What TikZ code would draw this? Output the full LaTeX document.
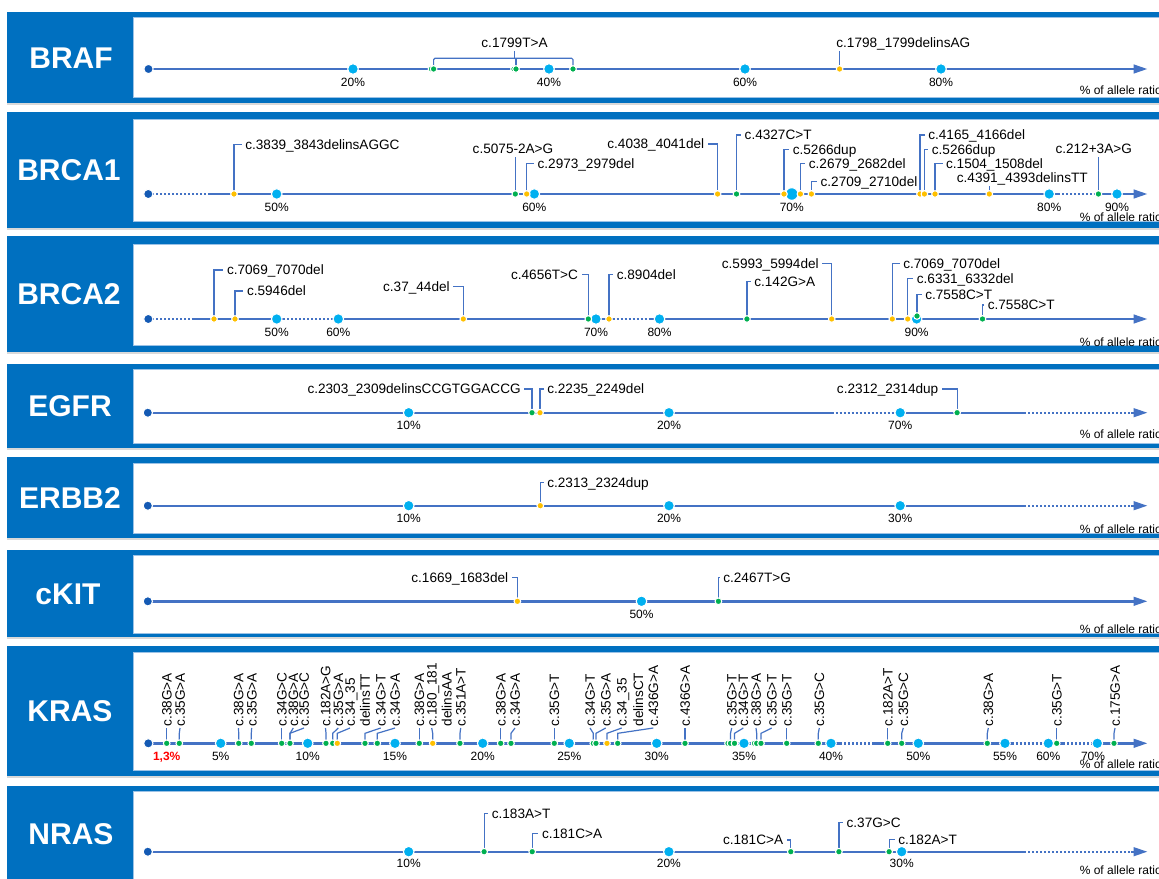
\documentclass[tikz,border=0pt]{standalone}
\usepackage{fontspec}
\setmainfont{Liberation Sans}
\usetikzlibrary{arrows.meta}
\definecolor{pblue}{RGB}{0,112,192}
\definecolor{lblue}{RGB}{155,194,230}
\definecolor{ablue}{RGB}{68,114,196}
\definecolor{sblue}{RGB}{20,90,180}
\definecolor{cyanc}{RGB}{0,176,240}
\definecolor{gdotc}{RGB}{0,176,80}
\definecolor{odotc}{RGB}{255,192,0}
\definecolor{redc}{RGB}{255,0,0}
\pgfdeclarelayer{bg}\pgfdeclarelayer{mid}\pgfsetlayers{bg,mid,main}
\tikzset{
 panelfill/.style={fill=pblue},
 innerfill/.style={fill=white,draw=lblue,line width=0.5pt},
 shadowfill/.style={fill=black!15},
 axisline/.style={draw=ablue,line width=1.8pt},
 dotline/.style={draw=ablue,line width=1.8pt,dash pattern=on 1.5pt off 1.5pt},
 arrowline/.style={draw=ablue,line width=1.8pt,-{Triangle[length=10.5pt,width=6.5pt]}},
 stick/.style={draw=ablue,line width=0.9pt},
 anydot/.style={circle,inner sep=0pt,draw=white,line width=0.8pt},
 sdot/.style={anydot,fill=sblue,minimum size=7pt},
 tdot/.style={anydot,fill=cyanc,minimum size=8pt},
 bdot/.style={anydot,fill=cyanc,minimum size=9.5pt},
 gdot/.style={anydot,fill=gdotc,minimum size=5pt},
 odot/.style={anydot,fill=odotc,minimum size=5pt},
 mlab/.style={font=\fontsize{10.2}{12}\selectfont,inner sep=2.5pt,text height=7.3pt,text depth=0pt},
 klab/.style={mlab,rotate=90,anchor=west,inner xsep=1pt},
 plab/.style={font=\fontsize{9}{10}\selectfont,inner sep=0pt,text height=6.45pt,text depth=0pt},
 rlab/.style={plab,anchor=west},
 glab/.style={font=\fontsize{22.5}{26}\selectfont\bfseries,text=white,inner sep=0pt,text height=16.1pt,text depth=0pt},
}
\newcommand\mypanel[4]{\begin{pgfonlayer}{bg}
 \fill[shadowfill] (7,#4) rectangle (1175,{#4+2});
 \fill[panelfill] (7,#1) rectangle (1175,#4);
 \filldraw[innerfill] (133,#2) rectangle (1180,#3);
 \end{pgfonlayer}}
\newcommand\tkd[5]{\node[tdot] (#1) at (#2,#3) {}; \node[plab] (#1l) at (#2,#4) {#5};}
\newcommand\mR[7]{\node[#2] (#1) at (#3,#4) {};
 \node[mlab,anchor=west] (#1t) at ({#6-3.3},#5) {#7};
 \begin{pgfonlayer}{mid}\draw[stick] (#1.center) |- (#1t.west);\end{pgfonlayer}}
\newcommand\mL[7]{\node[#2] (#1) at (#3,#4) {};
 \node[mlab,anchor=east] (#1t) at ({#6+3.3},#5) {#7};
 \begin{pgfonlayer}{mid}\draw[stick] (#1.center) |- (#1t.east);\end{pgfonlayer}}
\newcommand\mT[7]{\node[#2] (#1) at (#3,#4) {};
 \node[mlab] (#1t) at (#6,#5) {#7};
 \begin{pgfonlayer}{mid}\draw[stick] (#1.center) -- (#1.center |- #1t.south);\end{pgfonlayer}}
\newcommand\mK[6]{\node[#2] (#1) at (#3,#4) {};
 \node[klab] (#1t) at (#5,728) {#6};
 \begin{pgfonlayer}{mid}\draw[stick] (#1.center) -- ++(0,-10) -- (#1t.west);\end{pgfonlayer}}
\newcommand\kx[3]{\node[klab] (#1) at (#2,728) {#3};}
\newcommand\kxs[4]{\node[klab] (#1) at (#3,728) {#4};
 \begin{pgfonlayer}{mid}\draw[stick] (#2.center) -- ++(0,-10) -- (#1.west);\end{pgfonlayer}}
\begin{document}
\begin{tikzpicture}[x=0.75pt,y=-0.75pt]
\useasboundingbox (0,0) rectangle (1159,878);
\begin{pgfonlayer}{bg}\fill[white] (0,0) rectangle (1159,878);\end{pgfonlayer}
\mypanel{12}{17}{97}{103}
\mypanel{112}{119}{221}{228}
\mypanel{236}{244}{345}{352}
\mypanel{364}{369}{443}{448}
\mypanel{457}{463}{533}{538}
\mypanel{550}{555}{633}{637}
\mypanel{646}{652}{770}{776}
\mypanel{786}{791}{900}{905}
\node[glab] (nBRAF) at (71,57.5) {BRAF};
\node[glab] (nBRCA1) at (69,170) {BRCA1};
\node[glab] (nBRCA2) at (69,294) {BRCA2};
\node[glab] (nEGFR) at (70,406) {EGFR};
\node[glab] (nERBB2) at (70,497.5) {ERBB2};
\node[glab] (ncKIT) at (68,593.5) {cKIT};
\node[glab] (nKRAS) at (70,711) {KRAS};
\node[glab] (nNRAS) at (71,834) {NRAS};

% ---------------- BRAF
\node[sdot] (a0) at (148.5,69) {};
\coordinate (aE) at (1147.5,69);
\begin{pgfonlayer}{mid}\draw[arrowline] (a0.center) -- (aE);\end{pgfonlayer}
\tkd{a20}{353}{69}{82}{20\%}
\tkd{a40}{549}{69}{82}{40\%}
\tkd{a60}{745}{69}{82}{60\%}
\tkd{a80}{941}{69}{82}{80\%}
\node[gdot] (ag1b) at (431.5,69) {}; \node[gdot] (ag1) at (433.6,69) {};
\node[gdot] (ag2b) at (514,69) {}; \node[gdot] (ag2) at (516,69) {};
\node[gdot] (ag3) at (573,69) {};
\node[mlab] (agt) at (514.5,42.5) {c.1799T>A};
\coordinate (abr) at (500,58.3);
\begin{pgfonlayer}{mid}
\draw[stick,rounded corners=1pt] (ag1.center) |- (abr) -| (ag3.center);
\draw[stick] (ag2.center) -- (ag2.center |- abr);
\draw[stick] (agt.south) -- (agt.south |- abr);
\end{pgfonlayer}
\mT{ao1}{odot}{839.6}{69}{42.2}{903.3}{c.1798\_1799delinsAG}
\node[rlab] (aR) at (1079.5,90) {\% of allele ratio};

% ---------------- BRCA1
\node[sdot] (b0) at (148.3,194) {};
\coordinate (b1) at (208.3,194); \coordinate (b2) at (1058,194);
\coordinate (b3) at (1093.7,194); \coordinate (bE) at (1147.5,194);
\begin{pgfonlayer}{mid}
\draw[dotline] (b0.center) -- (b1); \draw[axisline] (b1) -- (b2);
\draw[dotline] (b2) -- (b3); \draw[arrowline] (b3) -- (bE);
\end{pgfonlayer}
\tkd{b50}{276.7}{194}{207}{50\%}
\tkd{b60}{534.3}{194}{207}{60\%}
\node[bdot] (b70) at (791.8,194) {}; \node[plab] (b70l) at (791.8,207) {70\%};
\tkd{b80}{1049.2}{194}{207}{80\%}
\tkd{b90}{1117}{194}{207}{90\%}
\mR{bm1}{odot}{234}{194}{144.3}{245}{c.3839\_3843delinsAGGC}
\mT{bm2}{gdot}{515.3}{194}{149}{513}{c.5075-2A>G}
\mR{bm3}{odot}{526.7}{194}{163.3}{537.3}{c.2973\_2979del}
\mL{bm4}{odot}{717.6}{194}{144}{704.5}{c.4038\_4041del}
\mR{bm5}{gdot}{736.5}{194}{135}{744.4}{c.4327C>T}
\mR{bm6}{odot}{784}{194}{149.3}{792.5}{c.5266dup}
\mR{bm7}{odot}{800.4}{194}{163.3}{808.6}{c.2679\_2682del}
\mR{bm8}{odot}{811.4}{194}{181.7}{820.3}{c.2709\_2710del}
\mR{bm9}{odot}{920}{194}{135}{928}{c.4165\_4166del}
\mR{bm10}{odot}{924.4}{194}{149.3}{931.6}{c.5266dup}
\mR{bm11}{odot}{935}{194}{163.3}{945.8}{c.1504\_1508del}
\mT{bm12}{odot}{989.3}{194}{178}{1022.3}{c.4391\_4393delinsTT}
\mT{bm13}{gdot}{1098.4}{194}{149}{1093.7}{c.212+3A>G}
\node[rlab] (bR) at (1079.5,217.3) {\% of allele ratio};

% ---------------- BRCA2
\node[sdot] (c0) at (148.3,319) {};
\coordinate (c1) at (191.7,319); \coordinate (c2) at (283,319);
\coordinate (c3) at (331.7,319); \coordinate (c4) at (612.5,319);
\coordinate (c5) at (650,319); \coordinate (cE) at (1147.5,319);
\begin{pgfonlayer}{mid}
\draw[dotline] (c0.center) -- (c1); \draw[axisline] (c1) -- (c2);
\draw[dotline] (c2) -- (c3); \draw[axisline] (c3) -- (c4);
\draw[dotline] (c4) -- (c5); \draw[arrowline] (c5) -- (cE);
\end{pgfonlayer}
\tkd{c50}{276.7}{319}{332.3}{50\%}
\tkd{c60}{338.3}{319}{332.3}{60\%}
\tkd{c70}{596}{319}{332.3}{70\%}
\tkd{c80}{659.5}{319}{332.3}{80\%}
\tkd{c90}{916.6}{319}{332.3}{90\%}
\mR{cm1}{odot}{214}{319}{270}{226.7}{c.7069\_7070del}
\mR{cm2}{odot}{235}{319}{291}{246.7}{c.5946del}
\mL{cm3}{odot}{463.3}{319}{286.7}{450}{c.37\_44del}
\mL{cm4}{gdot}{588.3}{319}{274.3}{578.3}{c.4656T>C}
\mR{cm5}{odot}{609}{319}{274.3}{616.5}{c.8904del}
\mR{cm6}{gdot}{746.9}{319}{281.7}{754}{c.142G>A}
\mL{cm7}{odot}{831.7}{319}{263.3}{819}{c.5993\_5994del}
\mR{cm8}{odot}{892.3}{319}{263.3}{903}{c.7069\_7070del}
\mR{cm9}{odot}{907.7}{319}{278.3}{916.6}{c.6331\_6332del}
\mR{cm10}{gdot}{917}{316}{294.3}{925}{c.7558C>T}
\mR{cm11}{gdot}{982.5}{319}{305}{987.5}{c.7558C>T}
\node[rlab] (cR) at (1079.5,342.3) {\% of allele ratio};

% ---------------- EGFR
\node[sdot] (d0) at (147.8,412.7) {};
\coordinate (d1) at (831.5,412.7); \coordinate (d2) at (896,412.7);
\coordinate (d3) at (1024,412.7); \coordinate (d4) at (1131,412.7);
\coordinate (dE) at (1147.5,412.7);
\begin{pgfonlayer}{mid}
\draw[axisline] (d0.center) -- (d1); \draw[dotline] (d1) -- (d2);
\draw[axisline] (d2) -- (d3); \draw[dotline] (d3) -- (d4);
\draw[arrowline] (d4) -- (dE);
\end{pgfonlayer}
\tkd{d10}{408.7}{412.7}{425}{10\%}
\tkd{d20}{669}{412.7}{425}{20\%}
\tkd{d70}{900.2}{412.7}{425}{70\%}
\mL{dm1}{gdot}{532}{412.7}{389}{521}{c.2303\_2309delinsCCGTGGACCG}
\mR{dm2}{odot}{540}{412.7}{389}{547}{c.2235\_2249del}
\mL{dm3}{gdot}{957.1}{412.7}{389}{938.6}{c.2312\_2314dup}
\node[rlab] (dR) at (1079.5,434) {\% of allele ratio};

% ---------------- ERBB2
\node[sdot] (e0) at (147.8,505.7) {};
\coordinate (e1) at (1024,505.7); \coordinate (e2) at (1131,505.7);
\coordinate (eE) at (1147.5,505.7);
\begin{pgfonlayer}{mid}
\draw[axisline] (e0.center) -- (e1); \draw[dotline] (e1) -- (e2);
\draw[arrowline] (e2) -- (eE);
\end{pgfonlayer}
\tkd{e10}{408.7}{505.7}{518.3}{10\%}
\tkd{e20}{669}{505.7}{518.3}{20\%}
\tkd{e30}{900.2}{505.7}{518.3}{30\%}
\mR{em1}{odot}{540.3}{505.7}{482.7}{547}{c.2313\_2324dup}
\node[rlab] (eR) at (1079.5,529.3) {\% of allele ratio};

% ---------------- cKIT
\node[sdot] (f0) at (147.8,601.3) {};
\coordinate (fE) at (1147.5,601.3);
\begin{pgfonlayer}{mid}\draw[arrowline] (f0.center) -- (fE);\end{pgfonlayer}
\tkd{f50}{641.5}{601.3}{614}{50\%}
\mL{fm1}{odot}{517.4}{601.3}{577.3}{508.5}{c.1669\_1683del}
\mR{fm2}{gdot}{718.4}{601.3}{577.3}{723}{c.2467T>G}
\node[rlab] (fR) at (1079.5,629.3) {\% of allele ratio};

% ---------------- KRAS
\node[sdot] (ka0) at (148.3,743.3) {};
\coordinate (ka1) at (840,743.3); \coordinate (ka2) at (873.3,743.3);
\coordinate (ka3) at (1011.7,743.3); \coordinate (ka4) at (1043.3,743.3);
\coordinate (ka5) at (1063,743.3); \coordinate (ka6) at (1091.7,743.3);
\coordinate (kaE) at (1147.5,743.3);
\begin{pgfonlayer}{mid}
\draw[axisline] (ka0.center) -- (ka1); \draw[dotline] (ka1) -- (ka2);
\draw[axisline] (ka2) -- (ka3); \draw[dotline] (ka3) -- (ka4);
\draw[axisline] (ka4) -- (ka5); \draw[dotline] (ka5) -- (ka6);
\draw[arrowline] (ka6) -- (kaE);
\end{pgfonlayer}
\node[plab,font=\fontsize{9}{10}\selectfont\bfseries,text=redc] (k13l) at (166.7,755.7) {1,3\%};
\tkd{k5p}{220.7}{743.3}{755.7}{5\%}
\tkd{k10p}{307.7}{743.3}{755.7}{10\%}
\tkd{k15p}{395}{743.3}{755.7}{15\%}
\tkd{k20p}{482.7}{743.3}{755.7}{20\%}
\tkd{k25p}{569.3}{743.3}{755.7}{25\%}
\tkd{k30p}{656.7}{743.3}{755.7}{30\%}
\tkd{k35p}{744}{743.3}{755.7}{35\%}
\tkd{k40p}{831}{743.3}{755.7}{40\%}
\tkd{k50p}{918.3}{743.3}{755.7}{50\%}
\tkd{k55p}{1005}{743.3}{755.7}{55\%}
\tkd{k60p}{1048.3}{743.3}{755.7}{60\%}
\node[tdot] (k70p) at (1097.3,743.3) {}; \node[plab] (k70pl) at (1093,755.7) {70\%};
\mK{k1}{gdot}{166.7}{743.3}{166.7}{c.38G>A}
\mK{k2}{gdot}{179.3}{743.3}{180}{c.35G>A}
\mK{k3}{gdot}{238.7}{743.3}{238.5}{c.38G>A}
\mK{k4}{gdot}{251.3}{743.3}{251.7}{c.35G>A}
\mK{k5}{gdot}{281.7}{743.3}{281.7}{c.34G>C}
\mK{k6}{gdot}{290}{743.3}{293.3}{c.38G>A}
\kxs{k6u}{k6}{304}{c.35G>C}
\mK{k7}{gdot}{326}{743.3}{325.5}{c.182A>G}
\mK{k8}{gdot}{332.7}{743.3}{338.3}{c.35G>A}
\mK{k9}{odot}{337.3}{743.3}{350}{c.34\_35}
\kx{k9u}{365}{delinsTT}
\mK{k10}{gdot}{365}{743.3}{380.7}{c.34G>T}
\mK{k11}{gdot}{377.3}{743.3}{395}{c.34G>A}
\mK{k12}{gdot}{419.3}{743.3}{419.3}{c.38G>A}
\mK{k13}{odot}{432.7}{743.3}{431.7}{c.180\_181}
\kx{k13u}{446.7}{delinsAA}
\mK{k14}{gdot}{460}{743.3}{460.7}{c.351A>T}
\mK{k15}{gdot}{500.7}{743.3}{500.7}{c.38G>A}
\mK{k16}{gdot}{511}{743.3}{515}{c.34G>A}
\mK{k17}{gdot}{554.3}{743.3}{554.3}{c.35G>T}
\mK{k18}{gdot}{593.3}{743.3}{590}{c.34G>T}
\mK{k19}{gdot}{596}{743.3}{605.7}{c.35G>A}
\mK{k20}{odot}{607}{743.3}{621.7}{c.34\_35}
\kx{k20u}{638.3}{delinsCT}
\mK{k21}{gdot}{617.7}{743.3}{653.3}{c.436G>A}
\mK{k22}{gdot}{685}{743.3}{685}{c.436G>A}
\node[gdot] (k23b) at (728,743.3) {};
\mK{k23}{gdot}{730.5}{743.3}{731.7}{c.35G>T}
\mK{k24}{gdot}{734.5}{743.3}{743.3}{c.34G>T}
\node[gdot] (k25b) at (754.5,743.3) {};
\mK{k25}{gdot}{756.7}{743.3}{756}{c.38G>A}
\mK{k26}{gdot}{761}{743.3}{771.7}{c.35G>T}
\mK{k27}{gdot}{786.7}{743.3}{786.7}{c.35G>T}
\mK{k28}{gdot}{818.3}{743.3}{819.3}{c.35G>C}
\mK{k29}{gdot}{887.7}{743.3}{887.7}{c.182A>T}
\mK{k30}{gdot}{901.7}{743.3}{903.3}{c.35G>C}
\mK{k31}{gdot}{987.3}{743.3}{988.3}{c.38G>A}
\mK{k32}{gdot}{1056.7}{743.3}{1056.7}{c.35G>T}
\mK{k33}{gdot}{1114}{743.3}{1115}{c.175G>A}
\node[rlab] (kR) at (1079.5,764.3) {\% of allele ratio};

% ---------------- NRAS
\node[sdot] (n0) at (147.8,851.7) {};
\coordinate (n1) at (1024,851.7); \coordinate (n2) at (1131,851.7);
\coordinate (nE) at (1147.5,851.7);
\begin{pgfonlayer}{mid}
\draw[axisline] (n0.center) -- (n1); \draw[dotline] (n1) -- (n2);
\draw[arrowline] (n2) -- (nE);
\end{pgfonlayer}
\tkd{n10}{408.7}{851.7}{863.3}{10\%}
\tkd{n20}{668.9}{851.7}{863.3}{20\%}
\tkd{n30}{901.7}{851.7}{863.3}{30\%}
\mR{nm1}{gdot}{484.1}{851.7}{813.3}{491.5}{c.183A>T}
\mR{nm2}{gdot}{532.2}{851.7}{833.3}{541.7}{c.181C>A}
\mL{nm3}{gdot}{790.8}{851.7}{840}{783.4}{c.181C>A}
\mR{nm4}{gdot}{838.9}{851.7}{822.7}{846.3}{c.37G>C}
\mR{nm5}{gdot}{889.1}{851.7}{839.3}{898}{c.182A>T}
\node[rlab] (nR) at (1079.5,870) {\% of allele ratio};
\end{tikzpicture}
\end{document}
